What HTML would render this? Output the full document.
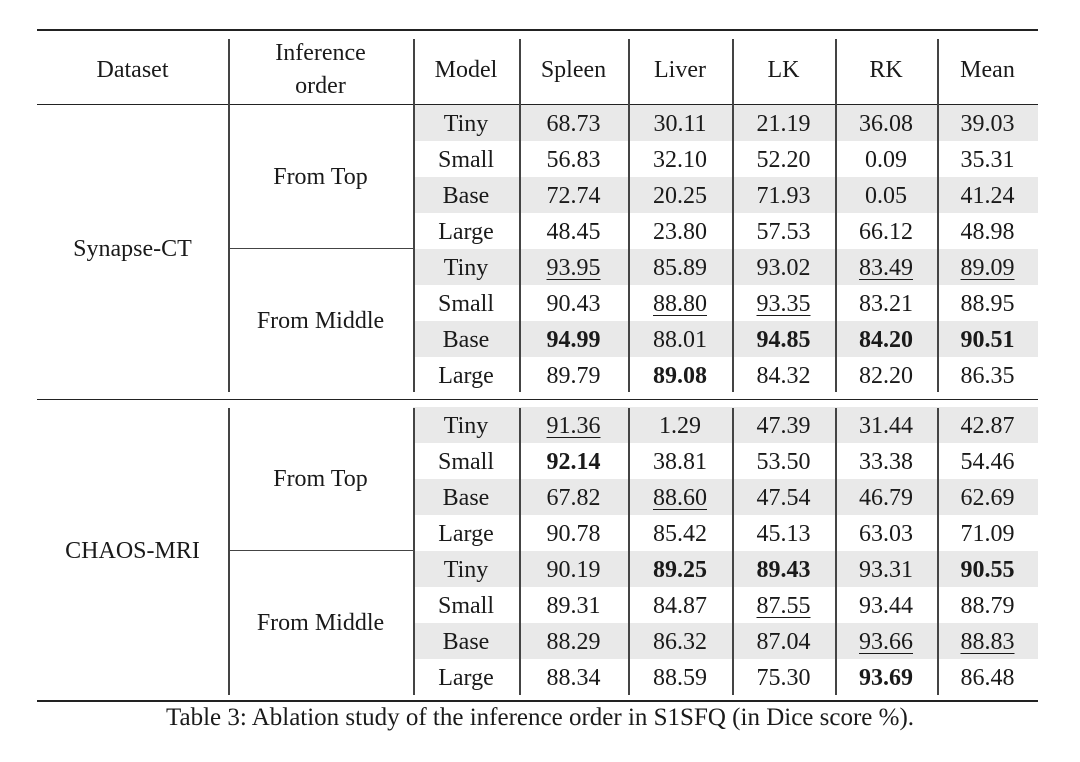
<!DOCTYPE html>
<html><head><meta charset="utf-8"><style>
body{margin:0;width:1080px;height:762px;background:#fff;overflow:hidden;font-family:"Liberation Serif",serif;color:#1a1a1a}
#t{position:absolute;left:0;top:0;width:1080px;height:762px}
.c{position:absolute;text-align:center;font-size:24px;line-height:28px;white-space:nowrap}
.hl{position:absolute;background:#222}
.vl{position:absolute;width:1.5px;background:#444}
.sh{position:absolute;background:#e9e9e9}
.u{text-decoration:underline;text-underline-offset:4px;text-decoration-thickness:1px}
.b{font-weight:bold}
</style></head><body>
<div id="t"></div>
<script>
const columns=["Spleen","Liver","LK","RK","Mean"];
const datasets=["Synapse-CT","CHAOS-MRI"];
const orders=["From Top","From Middle"];
const models=["Tiny","Small","Base","Large"];
const synapseValues=[
[68.73,30.11,21.19,36.08,39.03],[56.83,32.10,52.20,0.09,35.31],[72.74,20.25,71.93,0.05,41.24],[48.45,23.80,57.53,66.12,48.98],
[93.95,85.89,93.02,83.49,89.09],[90.43,88.80,93.35,83.21,88.95],[94.99,88.01,94.85,84.20,90.51],[89.79,89.08,84.32,82.20,86.35]];
const chaosValues=[
[91.36,1.29,47.39,31.44,42.87],[92.14,38.81,53.50,33.38,54.46],[67.82,88.60,47.54,46.79,62.69],[90.78,85.42,45.13,63.03,71.09],
[90.19,89.25,89.43,93.31,90.55],[89.31,84.87,87.55,93.44,88.79],[88.29,86.32,87.04,93.66,88.83],[88.34,88.59,75.30,93.69,86.48]];
const synapseStyle=["     ","     ","     ","     ","u  uu"," uu  ","b bbb"," b   "];
const chaosStyle=["u    ","b    "," u   ","     "," bb b","  u  ","   uu","   b "];
const allValues=[synapseValues,chaosValues];
const allStyles=[synapseStyle,chaosStyle];

const T=document.getElementById('t');
const colX=[37,228,413,519,628,732,835,937,1038];
const rowH=36, groupTop=[105,407];
function add(cls,css,txt){const d=document.createElement('div');d.className=cls;Object.assign(d.style,css);if(txt!==undefined)d.textContent=txt;T.appendChild(d);return d;}
function cell(x0,x1,yc,txt,extra){return add('c'+(extra?' '+extra:''),{left:x0+'px',width:(x1-x0)+'px',top:(yc-14)+'px'},txt);}

// rules
let e;
e=add('hl',{left:'37px',width:'1001px',top:'29px',height:'2px'});


e=add('hl',{left:'37px',width:'1001px',top:'104px',height:'1px'});


e=add('hl',{left:'37px',width:'1001px',top:'399px',height:'1px'});


e=add('hl',{left:'37px',width:'1001px',top:'700px',height:'2px'});



// shading
for(let g=0;g<2;g++){for(let r=0;r<8;r+=2){
 e=add('sh',{left:'413px',width:'625px',top:(groupTop[g]+r*rowH)+'px',height:rowH+'px'});
 
 
}}
// vertical lines
const vSegs=[[39,392],[408,695]];
for(let i=1;i<8;i++){for(const s of vSegs){
 e=add('vl',{left:colX[i]+'px',top:s[0]+'px',height:(s[1]-s[0])+'px'});
 
 
}}
// separator between orders within group (col 1..2)
for(let g=0;g<2;g++){
 e=add('hl',{left:'228px',width:'185px',top:(groupTop[g]+4*rowH-1)+'px',height:'1px',background:'#444'});
 
 
}
// header
e=cell(37,228,70,"Dataset");


e=cell(228,413,53,"Inference");


e=cell(228,413,86,"order");


e=cell(413,519,70,"Model");


columns.forEach((c,i)=>{
 const h=cell(colX[i+3],colX[i+4],70,c);
 
 
});
// body
for(let g=0;g<2;g++){
 const top=groupTop[g];
 const d=cell(37,228,top+4*rowH,datasets[g]);
 
 
 for(let o=0;o<2;o++){
  const ol=cell(228,413,top+o*4*rowH+2*rowH,orders[o]);
  
  
 }
 for(let r=0;r<8;r++){
  const yc=top+r*rowH+rowH/2+1;
  const m=cell(413,519,yc,models[r%4]);
  
  
  for(let c=0;c<5;c++){
   const st=allStyles[g][r][c];
   const cls=st==='b'?'b':st==='u'?'u':'';
   const v=cell(colX[c+3],colX[c+4],yc,allValues[g][r][c].toFixed(2),cls);
   
   
  }
 }
}
e=add('c',{left:'0px',width:'1080px',top:'704px',fontSize:'25px'},"Table 3: Ablation study of the inference order in S1SFQ (in Dice score %).");


</script>
</body></html>
